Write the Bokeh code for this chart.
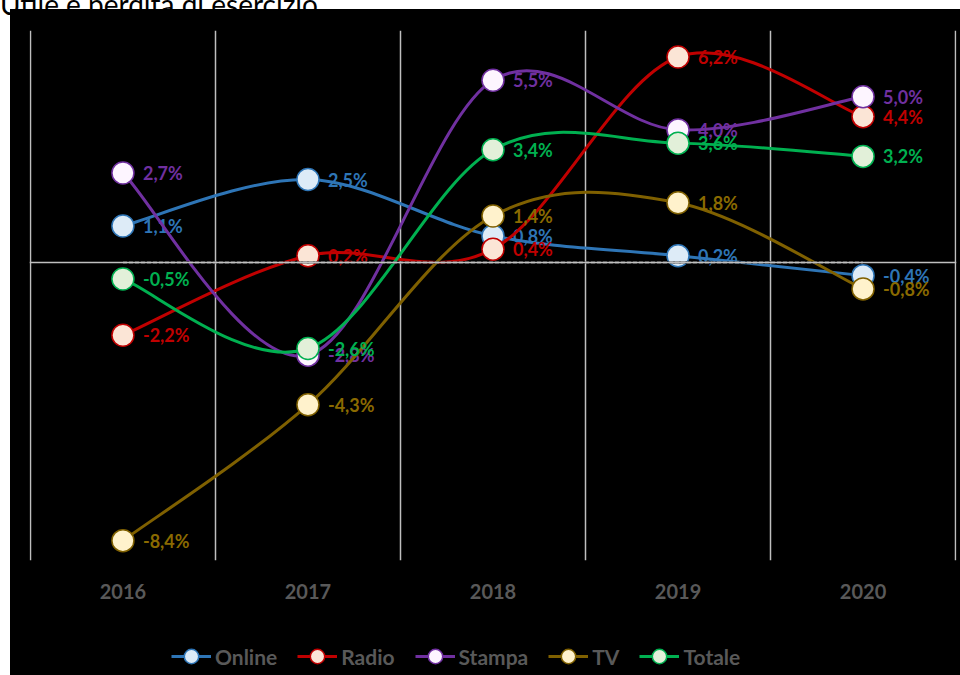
import numpy as np
from bokeh.plotting import figure
from bokeh.layouts import column
from bokeh.models import FixedTicker, Span, Legend, LegendItem, ColumnDataSource, Div
from bokeh.core.properties import value
from bokeh.embed import file_html
from bokeh.resources import INLINE

title = "Utile e perdita di esercizio"
years = ["2016", "2017", "2018", "2019", "2020"]
online = [1.1, 2.5, 0.8, 0.2, -0.4]
radio = [-2.2, 0.2, 0.4, 6.2, 4.4]
stampa = [2.7, -2.8, 5.5, 4.0, 5.0]
tv = [-8.4, -4.3, 1.4, 1.8, -0.8]
totale = [-0.5, -2.6, 3.4, 3.6, 3.2]
zero = [0, 0, 0, 0, 0]

series = [
    ("Online", online, "#2E75B6", "#DDEBF7", "#2E75B6"),
    ("Radio", radio, "#C00000", "#FBE5D6", "#C00000"),
    ("Stampa", stampa, "#7030A0", "#FDF5FF", "#7030A0"),
    ("TV", tv, "#7F6000", "#FFF2CC", "#8A6A00"),
    ("Totale", totale, "#00B050", "#E2F0D9", "#00B050"),
]

FONT = "Lato"
GREY = "#595959"

head = Div(text=f'<div style="position:relative;height:0">'
                f'<span style="position:absolute;left:0;bottom:-6px;font-family:Lato;'
                f'font-size:28px;line-height:28px;color:#000;white-space:nowrap">{title}</span></div>',
           width=960, height=9, margin=0)

p = figure(width=950, height=611, x_range=(-0.505, 4.505), y_range=(-9, 7),
           output_backend="svg", toolbar_location=None, y_axis_location=None,
           background_fill_color="black", border_fill_color="black",
           min_border_left=19, min_border_right=4, min_border_top=21,
           min_border_bottom=60, margin=0)
p.outline_line_color = None

xi = np.arange(len(years), dtype=float)

p.xaxis.ticker = FixedTicker(ticks=list(xi))
p.xaxis.major_label_overrides = {i: y for i, y in enumerate(years)}
p.xaxis.axis_line_color = None
p.xaxis.major_tick_line_color = None
p.xaxis.minor_tick_line_color = None
p.xaxis.major_label_text_font = FONT
p.xaxis.major_label_text_font_style = "bold"
p.xaxis.major_label_text_font_size = "20px"
p.xaxis.major_label_text_color = GREY
p.xaxis.major_label_standoff = 17

p.xgrid.ticker = FixedTicker(ticks=list(xi - 0.5) + [xi[-1] + 0.5])
p.xgrid.grid_line_color = "#BFBFBF"
p.xgrid.grid_line_width = 1.5
p.ygrid.visible = False

p.add_layout(Span(location=0, dimension="width", line_color="#BFBFBF", line_width=1.5))


def smooth(xs, ys):
    P = np.column_stack([xs, ys]).astype(float)
    n = len(P)
    x0, y0, x1, y1, cx0, cy0, cx1, cy1 = ([] for _ in range(8))
    for i in range(n - 1):
        pm = P[i - 1] if i > 0 else P[i]
        pp = P[i + 2] if i + 2 < n else P[i + 1]
        c1 = P[i] + (P[i + 1] - pm) / 6.0
        c2 = P[i + 1] - (pp - P[i]) / 6.0
        x0.append(P[i][0]); y0.append(P[i][1])
        x1.append(P[i + 1][0]); y1.append(P[i + 1][1])
        cx0.append(c1[0]); cy0.append(c1[1])
        cx1.append(c2[0]); cy1.append(c2[1])
    return dict(x0=x0, y0=y0, x1=x1, y1=y1, cx0=cx0, cy0=cy0, cx1=cx1, cy1=cy1)


# legend strip (separate figure so the legend can sit below the axis labels)
lg = figure(width=950, height=55, x_range=(-0.5, 4.5), y_range=(-9, 7),
            output_backend="svg", toolbar_location=None,
            x_axis_location=None, y_axis_location=None,
            background_fill_color="black", border_fill_color="black",
            min_border=0, margin=0)
lg.outline_line_color = None
lg.grid.visible = False

items = []
for name, vals, lc, fc, tc in series:
    src = ColumnDataSource(smooth(xi, vals))
    p.bezier(x0="x0", y0="y0", x1="x1", y1="y1", cx0="cx0", cy0="cy0",
             cx1="cx1", cy1="cy1", source=src, line_color=lc, line_width=3)
    p.scatter(xi, vals, size=22, fill_color=fc, line_color=lc, line_width=1.5)
    labels = [f"{v:.1f}".replace(".", ",") + "%" for v in vals]
    p.text(xi, vals, text=labels, x_offset=20, text_baseline="middle", text_align="left",
           text_font=value(FONT), text_font_style="bold", text_font_size="18px", text_color=tc)
    r1 = lg.line(xi, vals, line_color=lc, line_width=3, visible=False)
    r2 = lg.scatter(xi, vals, size=14, fill_color=fc, line_color=lc, line_width=1.5, visible=False)
    items.append(LegendItem(label=name, renderers=[r1, r2]))

p.line(xi, zero, line_color="black", line_width=2)
p.line(xi, zero, line_color="white", line_width=1.5, line_dash="4 2")

legend = Legend(items=items, orientation="horizontal", location=(142, 1),
                label_text_font=FONT, label_text_font_style="bold", label_text_font_size="21px",
                label_text_color=GREY, background_fill_alpha=0, border_line_color=None,
                inactive_fill_alpha=0, spacing=20, label_standoff=4,
                glyph_width=40, glyph_height=36, padding=0, margin=0)
lg.add_layout(legend, "center")

body = column(p, lg, spacing=0, margin=(0, 0, 0, 10), styles={"background-color": "black"})
layout = column(head, body, spacing=0)
open("out.html", "w").write(file_html(layout, INLINE))
